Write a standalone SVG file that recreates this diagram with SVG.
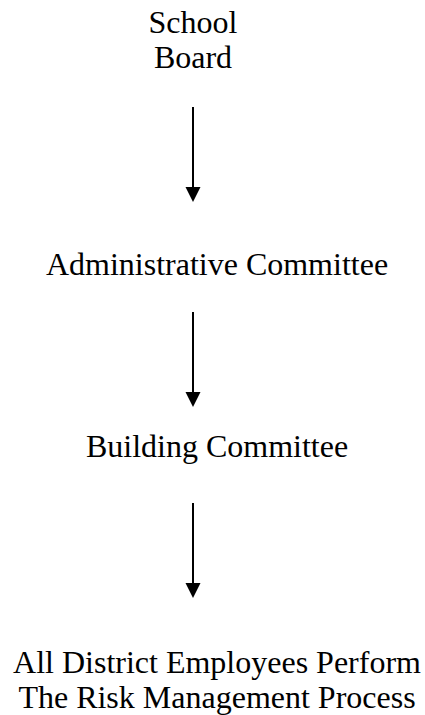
<svg xmlns="http://www.w3.org/2000/svg" width="425" height="715" viewBox="0 0 425 715">
<style>
text{font-family:"Liberation Serif","Times New Roman",serif;font-size:32px;fill:#000;text-anchor:middle}
.c line{stroke:#000;stroke-width:2}
.c polygon{fill:#000}
</style>
<rect width="425" height="715" fill="#fff"/>
<g id="n1"><text x="193" y="33">School</text><text x="193" y="68">Board</text></g>
<g id="n2"><text x="217" y="275">Administrative Committee</text></g>
<g id="n3"><text x="217" y="457">Building Committee</text></g>
<g id="n4"><text x="217" y="673">All District Employees Perform</text><text x="217" y="708">The Risk Management Process</text></g>
<g id="connectors" class="c">
<line x1="193" y1="107" x2="193" y2="188"/><polygon points="185.5,187 200.5,187 193,202"/>
<line x1="193" y1="312" x2="193" y2="393"/><polygon points="185.5,392 200.5,392 193,407"/>
<line x1="193" y1="503" x2="193" y2="584"/><polygon points="185.5,583 200.5,583 193,598"/>
</g>
</svg>
